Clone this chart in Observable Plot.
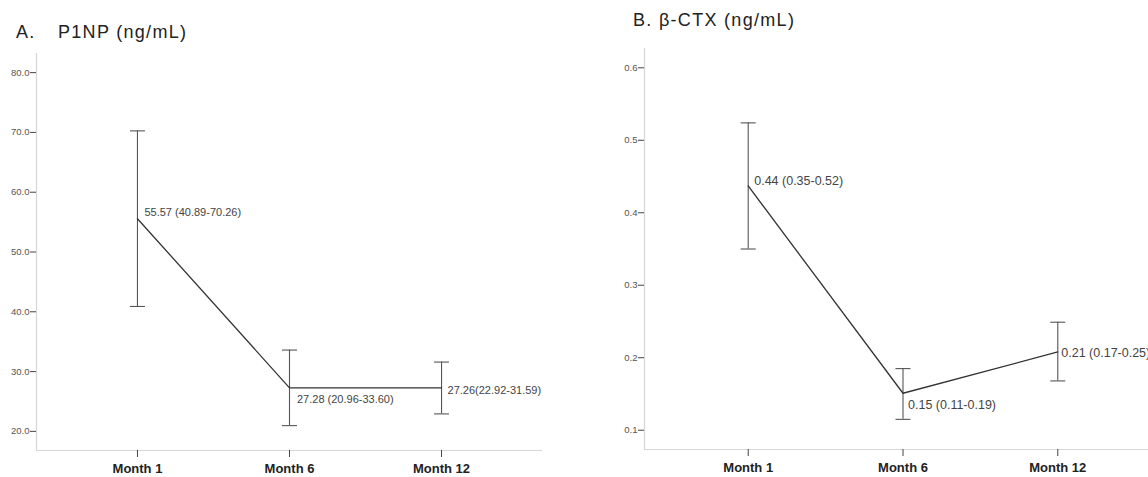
<!DOCTYPE html>
<html>
<head>
<meta charset="utf-8">
<script src="https://cdn.jsdelivr.net/npm/d3@7"></script>
<script src="https://cdn.jsdelivr.net/npm/@observablehq/plot@0.6"></script>
<style>
  html, body { margin: 0; padding: 0; background: #fff; }
  body { width: 1148px; height: 477px; overflow: hidden; position: relative; font-family: "Liberation Sans", Arial, sans-serif; }
  .title { position: absolute; font-size: 18px; line-height: 18px; letter-spacing: 1.3px; color: #222; white-space: nowrap; }
  .panel { position: absolute; top: 0; }
  .panel svg { overflow: visible; max-width: none !important; }
</style>
</head>
<body>
<div class="title" style="left:16px;top:23px;">A.</div>
<div class="title" style="left:58px;top:23px;">P1NP (ng/mL)</div>
<div class="title" style="left:633px;top:11px;">B. β-CTX (ng/mL)</div>
<div id="a" class="panel" style="left:0px;width:574px;"></div>
<div id="b" class="panel" style="left:574px;width:600px;"></div>
<script>
// Categories
const months = ["Month 1", "Month 6", "Month 12"];

// Panel A: P1NP (ng/mL)
const p1npMean = [55.57, 27.28, 27.26];
const p1npLow  = [40.89, 20.96, 22.92];
const p1npHigh = [70.26, 33.60, 31.59];
const p1npLabels = ["55.57 (40.89-70.26)", "27.28 (20.96-33.60)", "27.26(22.92-31.59)"];
const p1npTicks = [20, 30, 40, 50, 60, 70, 80];

// Panel B: β-CTX (ng/mL)
const ctxMean = [0.437, 0.151, 0.208];
const ctxLow  = [0.350, 0.115, 0.168];
const ctxHigh = [0.524, 0.185, 0.249];
const ctxLabels = ["0.44 (0.35-0.52)", "0.15 (0.11-0.19)", "0.21 (0.17-0.25)"];
const ctxTicks = [0.1, 0.2, 0.3, 0.4, 0.5, 0.6];

const capSymbol = {
  draw(context, size) {
    const w = Math.sqrt(size / Math.PI);
    context.moveTo(-w, 0);
    context.lineTo(w, 0);
  }
};

function build(cfg) {
  const data = months.map((m, i) => ({
    idx: i + 1, month: m, mean: cfg.mean[i], lo: cfg.low[i], hi: cfg.high[i], label: cfg.labels[i]
  }));
  const pad = cfg.pad;
  const xDomain = [1 - pad, months.length + pad];
  const labelMarks = data.map((d, i) => Plot.text([d], {
    x: "idx", y: "mean", text: "label",
    textAnchor: "start", lineAnchor: "middle",
    dx: cfg.offsets[i][0], dy: cfg.offsets[i][1],
    fontSize: cfg.labelSize, fill: "#444"
  }));
  return Plot.plot({
    width: cfg.width, height: 477,
    marginLeft: cfg.ml, marginRight: cfg.mr, marginTop: cfg.mt, marginBottom: cfg.mb,
    style: { fontFamily: '"Liberation Sans", Arial, sans-serif', color: "#444", background: "transparent" },
    x: { type: "linear", domain: xDomain, axis: null },
    y: { type: "linear", domain: cfg.yDomain, axis: null },
    marks: [
      Plot.ruleX([xDomain[0]], { stroke: "#d6d6d6", strokeWidth: 1.2 }),
      Plot.ruleY([cfg.yDomain[0]], { stroke: "#d6d6d6", strokeWidth: 1.2 }),
      Plot.axisY({ ticks: cfg.ticks, tickSize: 6, tickPadding: 1, tickFormat: cfg.tickFormat, fontSize: 9.5, stroke: "#444", fill: "#555", label: null }),
      Plot.axisX({ ticks: [1, 2, 3], tickSize: 7, tickPadding: 6, tickFormat: (d) => months[d - 1], fontSize: 13, fontWeight: "bold", stroke: "#444", fill: "#222", label: null }),
      Plot.ruleX(data, { x: "idx", y1: "lo", y2: "hi", stroke: "#555", strokeWidth: 1.1 }),
      Plot.dot(data, { x: "idx", y: "hi", symbol: capSymbol, r: 7.5, stroke: "#555", strokeWidth: 1.1, fill: "none" }),
      Plot.dot(data, { x: "idx", y: "lo", symbol: capSymbol, r: 7.5, stroke: "#555", strokeWidth: 1.1, fill: "none" }),
      Plot.line(data, { x: "idx", y: "mean", stroke: "#333", strokeWidth: 1.3 }),
      ...labelMarks
    ]
  });
}

document.getElementById("a").append(build({
  mean: p1npMean, low: p1npLow, high: p1npHigh, labels: p1npLabels, ticks: p1npTicks,
  tickFormat: d3.format(".1f"), yDomain: [16.8, 83.2], pad: 0.664,
  width: 574, ml: 36, mr: 32, mt: 53, mb: 27, labelSize: 11,
  offsets: [[7, -6], [7.5, 11.5], [6, 2.5]]
}));

document.getElementById("b").append(build({
  mean: ctxMean, low: ctxLow, high: ctxHigh, labels: ctxLabels, ticks: ctxTicks,
  tickFormat: d3.format(".1f"), yDomain: [0.0734, 0.6266], pad: 0.67,
  width: 600, ml: 70, mr: 13, mt: 48, mb: 28, labelSize: 12.5,
  offsets: [[6, -4.5], [5, 12], [3.5, 1]]
}));
</script>
</body>
</html>
